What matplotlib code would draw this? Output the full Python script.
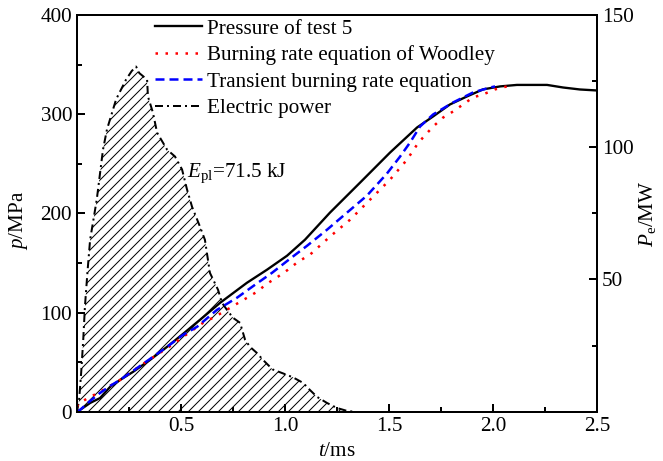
import matplotlib
matplotlib.use('Agg')
import matplotlib.pyplot as plt
from matplotlib.ticker import MultipleLocator, FixedLocator

plt.rcParams['font.family'] = ['Liberation Serif', 'DejaVu Serif']
plt.rcParams['mathtext.fontset'] = 'custom'
plt.rcParams['mathtext.rm'] = 'Liberation Serif'
plt.rcParams['mathtext.it'] = 'Liberation Serif:italic'
plt.rcParams['hatch.linewidth'] = 0.6
fs = 12.7

# pressure of test 5 (t/ms, p/MPa)
t_test = [0, 0.014, 0.063, 0.111, 0.159, 0.207, 0.269, 0.351, 0.433, 0.510, 0.591, 0.688,
          0.817, 0.913, 1.010, 1.096, 1.216, 1.361, 1.505, 1.635, 1.712, 1.793, 1.875,
          1.952, 2.034, 2.115, 2.260, 2.337, 2.418, 2.5]
p_test = [0, 1.7, 8.8, 13.8, 25.0, 32.0, 40.1, 52.2, 65.4, 78.5, 92.6, 109.8,
          130.0, 143.1, 157.3, 173.4, 200.7, 231.0, 261.3, 286.6, 297.7, 309.8, 317.9,
          325.0, 328.0, 329.5, 329.5, 326.9, 324.9, 323.9]

# burning rate equation of Woodley
t_wood = [0, 0.005, 0.053, 0.101, 0.159, 0.207, 0.255, 0.303, 0.361, 0.457, 0.510, 0.558,
          0.606, 0.663, 0.712, 0.760, 0.817, 0.865, 0.913, 0.966, 1.014, 1.063, 1.120,
          1.216, 1.313, 1.409, 1.505, 1.587, 1.635, 1.663, 1.712, 1.760, 1.808, 1.856,
          1.904, 1.952, 2.010, 2.067]
p_wood = [5.0, 7.8, 13.8, 18.9, 26.0, 32.0, 39.1, 46.2, 54.2, 67.4, 75.5, 82.5,
          89.6, 95.7, 101.7, 107.8, 114.8, 120.9, 129.0, 136.1, 143.1, 151.2, 158.3,
          176.5, 193.6, 213.8, 234.0, 254.2, 269.3, 276.4, 287.5, 296.6, 302.7, 309.8,
          316.9, 319.9, 325.0, 328.0]

# transient burning rate equation
t_tran = [0, 0.014, 0.063, 0.111, 0.159, 0.207, 0.269, 0.351, 0.433, 0.510, 0.577, 0.673,
          0.769, 0.856, 0.938, 1.024, 1.106, 1.202, 1.298, 1.394, 1.490, 1.553, 1.601,
          1.649, 1.712, 1.808, 1.904, 1.986, 2.010]
p_tran = [0, 1.7, 10.8, 18.9, 26.0, 32.0, 41.1, 53.2, 65.4, 77.5, 85.6, 102.7,
          114.9, 128.0, 140.1, 154.2, 167.3, 183.5, 200.7, 217.9, 240.1, 257.2, 271.4,
          287.5, 299.7, 311.8, 321.9, 326.9, 328.0]

# electric power (t/ms, Pe/MW)
t_pow = [0, 0.010, 0.020, 0.030, 0.038, 0.050, 0.063, 0.095, 0.125, 0.144, 0.188, 0.236,
         0.263, 0.284, 0.300, 0.337, 0.341, 0.365, 0.385, 0.433, 0.471, 0.505, 0.529,
         0.553, 0.591, 0.615, 0.639, 0.678, 0.697, 0.721, 0.750, 0.784, 0.808, 0.832,
         0.865, 0.894, 0.940, 0.990, 1.038, 1.087, 1.120, 1.154, 1.202, 1.250, 1.298, 1.33]
pe_pow = [0, 4.4, 14.7, 27.2, 39.6, 52.5, 65.0, 80.2, 99.1, 106.7, 118.1, 125.6,
          128.8, 130.5, 128.0, 125.6, 119.2, 113.1, 105.5, 99.1, 96.5, 91.6, 84.0,
          77.5, 70.0, 65.0, 52.5, 46.1, 41.2, 38.5, 35.5, 33.6, 27.2, 24.5,
          22.2, 19.6, 16.0, 14.5, 13.0, 10.9, 8.2, 5.6, 3.3, 1.4, 0.3, 0]

fig = plt.figure(figsize=(663 / 120, 461 / 120), dpi=120)
ax = fig.add_axes([77 / 663, 1 - 411.7 / 461, 520 / 663, 396.7 / 461])
ax2 = ax.twinx()

ax2.fill_between(t_pow, 0, pe_pow, facecolor='none', edgecolor='black', hatch='////', linewidth=0)
l4, = ax2.plot(t_pow, pe_pow, color='black', lw=1.2, linestyle=(0, (4, 2, 1, 2)))

l1, = ax.plot(t_test, p_test, color='black', lw=1.4)
l2, = ax.plot(t_wood, p_wood, color='red', lw=1.5, linestyle=(0, (1, 3)))
l3, = ax.plot(t_tran, p_tran, color='blue', lw=1.5, linestyle=(0, (3.6, 2)))

ax.set_zorder(ax2.get_zorder() + 1)
ax.patch.set_visible(False)

ax.set_xlim(0, 2.5)
ax.set_ylim(0, 400)
ax2.set_ylim(0, 150)

ax.xaxis.set_minor_locator(MultipleLocator(0.25))
ax.set_xticks([0, 0.5, 1.0, 1.5, 2.0, 2.5])
ax.set_xticklabels(['', '0.5', '1.0', '1.5', '2.0', '2.5'])
ax.yaxis.set_major_locator(MultipleLocator(100))
ax.yaxis.set_minor_locator(MultipleLocator(50))
ax2.yaxis.set_major_locator(FixedLocator([50, 100, 150]))
ax2.yaxis.set_minor_locator(FixedLocator([25, 75, 125]))

for a in (ax, ax2):
    for s in a.spines.values():
        s.set_linewidth(1.2)
ax.tick_params(which='both', direction='in', width=1.2, labelsize=fs, top=False, right=False, pad=3)
ax.tick_params(which='major', length=4.8)
ax.tick_params(which='minor', length=3)
ax2.tick_params(which='both', direction='in', width=1.2, labelsize=fs, pad=3)
ax2.tick_params(which='major', length=4.8)
ax2.tick_params(which='minor', length=3)

ax.set_xlabel('$t$/ms', fontsize=fs, labelpad=4)
ax.set_ylabel('$p$/MPa', fontsize=fs)
ax.yaxis.set_label_coords(-0.09, 0.483)
ax2.set_ylabel('$P_{\\mathrm{e}}$/MW', fontsize=fs, labelpad=2, rotation=90)

ax.text(0.529, 240, '$E_{\\mathrm{pl}}$=71.5 kJ', fontsize=fs, ha='left', va='center')

ax.legend([l1, l2, l3, l4],
          ['Pressure of test 5', 'Burning rate equation of Woodley',
           'Transient burning rate equation', 'Electric power'],
          loc='upper left', bbox_to_anchor=(0.15, 0.99), frameon=False, fontsize=fs,
          borderpad=0, borderaxespad=0, handlelength=2.2, handletextpad=0.25, labelspacing=0.31)

plt.savefig('out.png', dpi=120)
